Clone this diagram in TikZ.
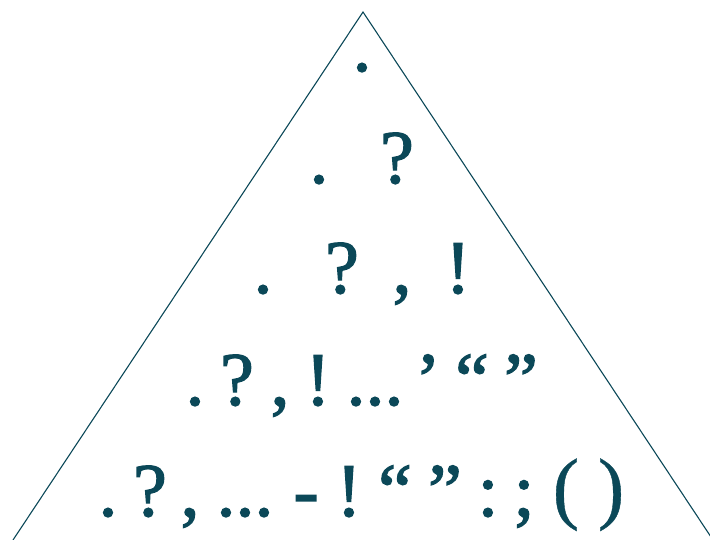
\documentclass[tikz,border=0pt]{standalone}
\usepackage{fontspec}
\setmainfont{Liberation Serif}
\newfontfamily\glyphfont{Liberation Serif}[FakeBold=1.6]
\newfontfamily\parenfont{Liberation Serif}[FakeBold=0.5]
\definecolor{teal}{RGB}{11,72,88}
\begin{document}
\begin{tikzpicture}[x=1pt,y=-1pt,
  glyph/.style={anchor=base,inner sep=0pt,outer sep=0pt,text=teal,font=\glyphfont\fontsize{76}{76}\selectfont},
  paren/.style={glyph,font=\parenfont\fontsize{80}{80}\selectfont},
  edge/.style={draw=teal,line width=1.1pt}]
\useasboundingbox (0,0) rectangle (710,540);
\clip (0,0) rectangle (710,540);
\coordinate (apex) at (363,12);
\coordinate (bl) at (13,540);
\coordinate (br) at (713,540);
\draw[edge] (bl) -- (apex) -- (br);
% row 1
\node[glyph] (r1a) at (362,71) {.};
% row 2
\node[glyph] (r2a) at (319,183) {.};
\node[glyph] (r2b) at (397,183) {?};
% row 3
\node[glyph] (r3a) at (263,293) {.};
\node[glyph] (r3b) at (342,293) {?};
\node[glyph] (r3c) at (402,293) {,};
\node[glyph] (r3d) at (458,293) {!};
% row 4
\node[glyph] (r4a) at (195,405) {.};
\node[glyph] (r4b) at (237,405) {?};
\node[glyph] (r4c) at (280,405) {,};
\node[glyph] (r4d) at (318,405) {!};
\node[glyph] (r4e) at (375,405) {...};
\node[glyph] (r4f) at (428,405) {’};
\node[glyph] (r4g) at (472,405) {“};
\node[glyph] (r4h) at (521,405) {”};
% row 5
\node[glyph] (r5a) at (108,516) {.};
\node[glyph] (r5b) at (150,516) {?};
\node[glyph] (r5c) at (190,516) {,};
\node[glyph] (r5d) at (245,516) {...};
\node[glyph] (r5e) at (306,516) {-};
\node[glyph] (r5f) at (349,516) {!};
\node[glyph] (r5g) at (395,516) {“};
\node[glyph] (r5h) at (445,516) {”};
\node[glyph] (r5i) at (488,516) {:};
\node[glyph] (r5j) at (524,516) {;};
\node[paren] (r5k) at (566,514) {(};
\node[paren] (r5l) at (611,514) {)};
\end{tikzpicture}
\end{document}
